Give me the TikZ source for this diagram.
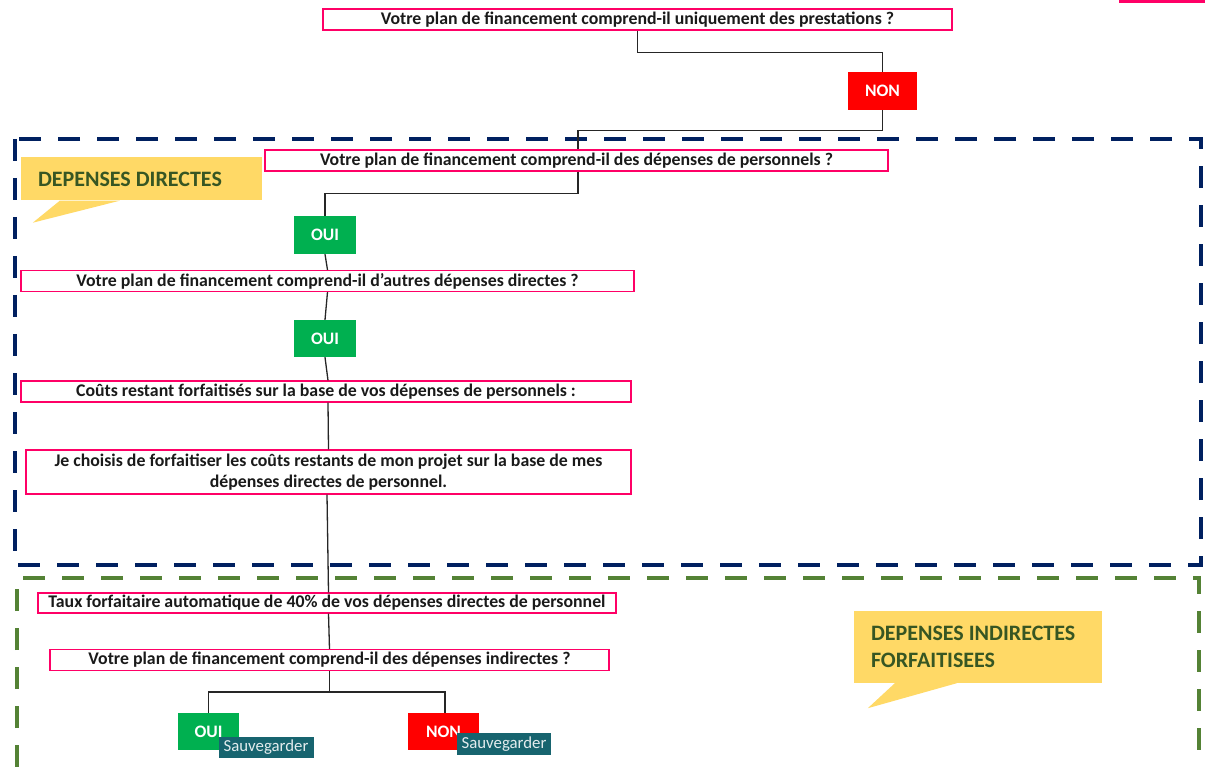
\documentclass[tikz,border=0pt]{standalone}
\usepackage{fontspec}
\setmainfont{Carlito}
\usetikzlibrary{positioning,calc}
\definecolor{frPink}{HTML}{FF0066}
\definecolor{frRed}{HTML}{FF0000}
\definecolor{frGreen}{HTML}{00B050}
\definecolor{frTeal}{HTML}{17646F}
\definecolor{frNavy}{HTML}{002060}
\definecolor{frOlive}{HTML}{548235}
\definecolor{frYellow}{HTML}{FFD966}
\definecolor{frDark}{HTML}{375623}
\definecolor{frLine}{HTML}{262626}
\definecolor{frText}{HTML}{1A1A1A}
\tikzset{
  qBox/.style={
    draw=frPink,
    line width=1.2pt,
    fill=white,
    inner sep=0pt,
    align=flush center,
    text=frText,
    font=\bfseries\fontsize{17.8}{21}\selectfont,
    minimum height=21pt
  },
  answerBox/.style={
    inner sep=0pt,
    text=white,
    font=\bfseries\fontsize{17.5}{18}\selectfont,
    minimum height=37pt
  },
  ouiBox/.style={answerBox, fill=frGreen, minimum width=62pt},
  nonBox/.style={answerBox, fill=frRed, minimum width=69pt},
  saveBox/.style={
    fill=frTeal,
    text=frTeal!12,
    inner sep=0pt,
    font=\fontsize{16.8}{18}\selectfont,
    minimum height=21pt,
    minimum width=95pt
  },
  calloutBox/.style={
    fill=frYellow,
    text=frDark,
    font=\bfseries\fontsize{22}{27}\selectfont,
    align=flush left,
    inner xsep=17pt,
    inner ysep=0pt
  },
  zoneFrame/.style={
    line width=4pt,
    dash pattern=on 22pt off 17pt
  },
  finLink/.style={
    draw=frLine,
    line width=1.3pt
  }
}

\begin{document}
\begin{tikzpicture}[x=1pt, y=-1pt]
  \useasboundingbox (0,0) rectangle (1205,767);
  \fill[frPink] (1119,0) rectangle (1205,3);

  % zones
  \draw[zoneFrame, frNavy] (15,139) rectangle (1201,565);
  \draw[zoneFrame, frOlive] (17,767) -- (17,578) -- (1199,578) -- (1199,767);

  % questions
  \node[qBox, minimum width=629pt] (prest) at (637.5,19.5) {Votre plan de financement comprend-il uniquement des prestations ?};
  \node[qBox, minimum width=623pt] (perso) at (576.5,160.5) {Votre plan de financement comprend-il des dépenses de personnels ?};
  \node[qBox, minimum width=613pt] (autres) at (327.5,281) {Votre plan de financement comprend-il d’autres dépenses directes ?};
  \node[qBox, minimum width=610pt] (couts) at (326,391.5) {Coûts restant forfaitisés sur la base de vos dépenses de personnels :};
  \node[qBox, minimum width=605pt, minimum height=44pt] (choix) at (328.5,472) {Je choisis de forfaitiser les coûts restants de mon projet sur la base de mes\\dépenses directes de personnel.};
  \node[qBox, minimum width=578pt, minimum height=20pt] (taux) at (327,603) {Taux forfaitaire automatique de 40\% de vos dépenses directes de personnel};
  \node[qBox, minimum width=559pt] (indir) at (329.5,660) {Votre plan de financement comprend-il des dépenses indirectes ?};

  % answers
  \node[nonBox, minimum height=38pt] (nonA) at (882.5,91) {NON};
  \node[ouiBox, minimum height=38pt] (ouiA) at (325,235) {OUI};
  \node[ouiBox] (ouiB) at (325,338.5) {OUI};
  \node[ouiBox, minimum width=61pt] (ouiC) at (208.5,731.5) {OUI};
  \node[nonBox, minimum width=71pt] (nonC) at (443.5,731.5) {NON};
  \node[saveBox] (saveOui) at (266,747.5) {Sauvegarder};
  \node[saveBox, minimum width=94pt, minimum height=22pt] (saveNon) at (504,744) {Sauvegarder};

  % callouts
  \node[calloutBox, text width=207pt, minimum height=43pt] (directes) at (141.5,179) {DEPENSES DIRECTES};
  \fill[frYellow] ([xshift=39pt]directes.south west) -- ++(-27,22) -- ([xshift=99pt]directes.south west) -- cycle;
  \node[calloutBox, text width=214pt, minimum height=72pt] (indirectes) at (978,647) {DEPENSES INDIRECTES\\FORFAITISEES};
  \fill[frYellow] ([xshift=41pt]indirectes.south west) -- ++(-27,25) -- ([xshift=103pt]indirectes.south west) -- cycle;

  % links
  \draw[finLink] (prest.south) -- +(0,22) -| (nonA.north);
  \draw[finLink] (nonA.south) -- +(0,20) -| ([xshift=1.5pt]perso.north);
  \draw[finLink] ([xshift=1.5pt]perso.south) -- +(0,22) -| (ouiA.north);
  \draw[finLink] (ouiA.south) -- (autres.north);
  \draw[finLink] (autres.north |- autres.south) -- (ouiB.north);
  \draw[finLink] (ouiB.south) -- ([xshift=2pt]couts.north);
  \draw[finLink] ([xshift=2pt]couts.south) -- (choix.north);
  \draw[finLink] ([xshift=-1.5pt]choix.south) -- ([xshift=1.5pt]taux.north);
  \draw[finLink] ([xshift=1.5pt]taux.south) -- (indir.north);
  \draw[finLink] (indir.south) -- +(0,21) coordinate (fork);
  \draw[finLink] (ouiC.north) |- (fork) -| ([xshift=1.5pt]nonC.north);
\end{tikzpicture}
\end{document}
